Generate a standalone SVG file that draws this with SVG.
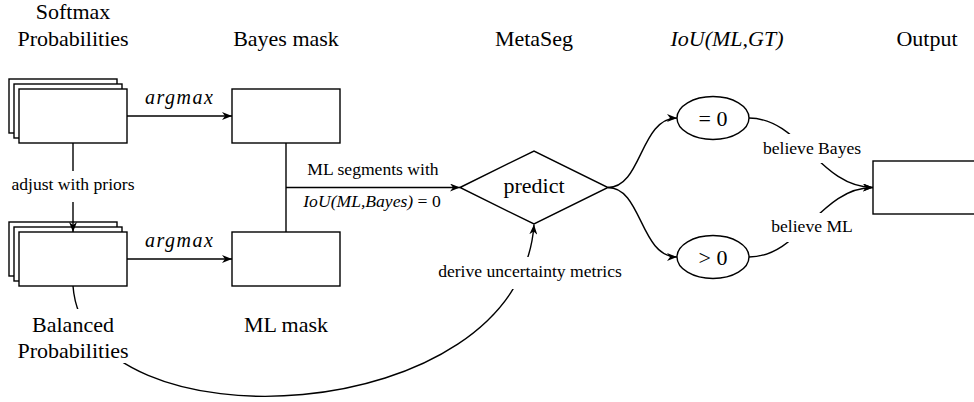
<svg xmlns="http://www.w3.org/2000/svg" width="974" height="402" viewBox="0 0 974 402">
<style>
.box{fill:#fff;stroke:#000;stroke-width:1.4}
.ln{fill:none;stroke:#000;stroke-width:1.4}
.big{font-size:22px;fill:#000;text-anchor:middle}
.sm{font-size:17.6px;fill:#000;text-anchor:middle}
.math{font-size:20px;fill:#000;text-anchor:middle;font-style:italic}
.it{font-style:italic}
.bg{fill:#fff;stroke:none}
</style>
<defs>
<marker id="arr" markerUnits="userSpaceOnUse" markerWidth="10" markerHeight="8" viewBox="0 0 10 8" refX="10" refY="4" orient="auto">
<path d="M0,0 L10,4 L0,8 L3,4 z" fill="#000"/>
</marker>
</defs>
<rect width="974" height="402" fill="#fff"/>
<g font-family="Liberation Serif, Tinos, DejaVu Serif, Noto Serif, serif">
<g id="headers">
<text class="big" x="73" y="19">Softmax</text>
<text class="big" x="73" y="46">Probabilities</text>
<text class="big" x="286" y="46">Bayes mask</text>
<text class="big" x="534" y="46">MetaSeg</text>
<text class="big it" x="727" y="46">IoU(ML,GT)</text>
<text class="big" x="927" y="46">Output</text>
</g>

<g id="softmax">
<rect class="box" x="9" y="79" width="108" height="54"/>
<rect class="box" x="14" y="84" width="108" height="54"/>
<rect class="box" x="19" y="89" width="108" height="54"/>
</g>
<g id="balanced">
<rect class="box" x="9" y="222" width="108" height="54"/>
<rect class="box" x="14" y="227" width="108" height="54"/>
<rect class="box" x="19" y="232" width="108" height="54"/>
</g>
<g id="bayes-mask">
<rect class="box" x="232" y="89" width="108" height="54"/>
</g>
<g id="ml-mask">
<rect class="box" x="232" y="232" width="108" height="54"/>
</g>
<g id="predict">
<polygon class="box" points="460,187.5 534,151 608,187.5 534,224"/>
<text class="big" x="534" y="193">predict</text>
</g>
<g id="eq0">
<ellipse class="box" cx="713" cy="118" rx="36" ry="21.5"/>
<text class="big" x="713" y="126">= 0</text>
</g>
<g id="gt0">
<ellipse class="box" cx="713" cy="257" rx="36" ry="21.5"/>
<text class="big" x="713" y="265">&gt; 0</text>
</g>
<g id="output">
<rect class="box" x="873" y="161" width="110" height="53"/>
</g>

<g id="connectors">
<line class="ln" x1="127" y1="116" x2="232" y2="116" marker-end="url(#arr)"/>
<line class="ln" x1="127" y1="259" x2="232" y2="259" marker-end="url(#arr)"/>
<line class="ln" x1="73" y1="143" x2="73" y2="232" marker-end="url(#arr)"/>
<line class="ln" x1="286" y1="143" x2="286" y2="232"/>
<line class="ln" x1="286" y1="187.5" x2="460" y2="187.5" marker-end="url(#arr)"/>
<path class="ln" d="M73,286 C85,452 520,430 534,224.5" marker-end="url(#arr)"/>
<path class="ln" d="M608,187.5 C642,187.5 640,118 677,118" marker-end="url(#arr)"/>
<path class="ln" d="M608,187.5 C642,187.5 640,257 677,257" marker-end="url(#arr)"/>
<path class="ln" d="M749,118 C800,118 820,187.5 873,187.5" marker-end="url(#arr)"/>
<path class="ln" d="M749,257 C800,257 820,187.5 873,187.5" marker-end="url(#arr)"/>
</g>

<g id="labels">
<text class="math" x="179" y="104" textLength="68" lengthAdjust="spacing">argmax</text>
<text class="math" x="179" y="247" textLength="68" lengthAdjust="spacing">argmax</text>
<rect class="bg" x="8" y="171" width="130" height="31"/>
<text class="sm" x="73" y="190">adjust with priors</text>
<rect class="bg" x="14" y="309" width="118" height="54"/>
<text class="big" x="73" y="332">Balanced</text>
<text class="big" x="73" y="358">Probabilities</text>
<text class="big" x="286" y="332">ML mask</text>
<text class="sm" x="373" y="175">ML segments with</text>
<text class="sm" x="372" y="207"><tspan class="it">IoU(ML,Bayes)</tspan> = 0</text>
<rect class="bg" x="434" y="257" width="194" height="32"/>
<text class="sm" x="530" y="277">derive uncertainty metrics</text>
<rect class="bg" x="758" y="134" width="108" height="29"/>
<text class="sm" x="812" y="154">believe Bayes</text>
<rect class="bg" x="768" y="213" width="88" height="29"/>
<text class="sm" x="812" y="232">believe ML</text>
</g>
</g>
</svg>
